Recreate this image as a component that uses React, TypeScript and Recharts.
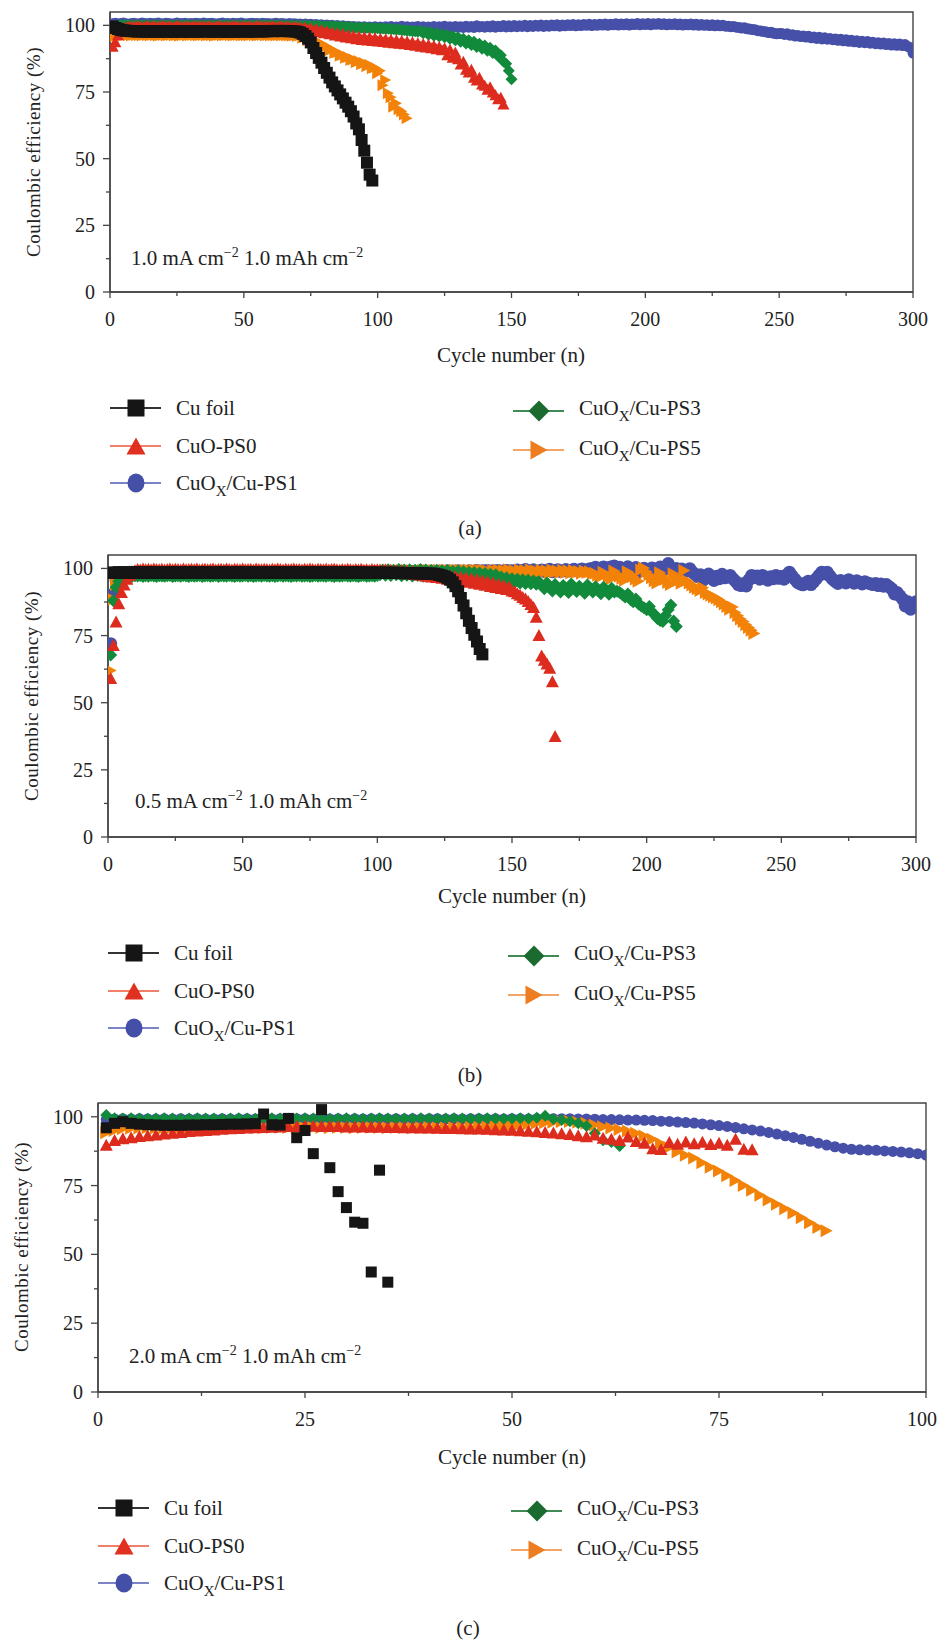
import React from "react";
import { ReferenceArea, Scatter, ScatterChart, XAxis, YAxis } from "recharts";

const FONT = '"Liberation Serif", "Times New Roman", serif';
const AXIS = "#444";

// ---- panel (a): 1.0 mA cm-2, cycles ----
const cuFoilA = [
  99.6, 99.0, 98.6, 98.3, 98.1, 98.0, 97.9, 97.8, 97.8, 97.7,
  97.7, 97.8, 97.6, 97.7, 97.8, 97.6, 97.7, 97.8, 97.7, 97.6,
  97.7, 97.8, 97.7, 97.6, 97.7, 97.8, 97.7, 97.7, 97.6, 97.7,
  97.8, 97.7, 97.6, 97.7, 97.8, 97.8, 97.7, 97.6, 97.7, 97.8,
  97.7, 97.7, 97.6, 97.7, 97.8, 97.7, 97.6, 97.7, 97.8, 97.8,
  97.7, 97.6, 97.7, 97.8, 97.8, 97.7, 97.7, 97.8, 97.8, 97.9,
  97.8, 97.9, 97.9, 97.8, 97.9, 97.9, 97.8, 97.8, 97.7, 97.6,
  97.3, 96.8, 96.0, 95.0, 93.6, 91.5, 89.6, 87.8, 86.0, 84.0,
  82.2, 80.4, 78.6, 77.1, 75.6, 74.1, 72.6, 71.0, 69.5, 67.8,
  65.8, 63.2, 61.0, 57.0, 53.0, 48.5, 44.0, 41.8,
];
const ps0A = [
  92.2, 93.8, 96.5, 98.4, 99.2, 99.5, 99.7, 99.6, 99.8, 99.7,
  99.8, 99.6, 99.7, 99.9, 99.7, 99.8, 99.6, 99.8, 99.7, 99.9,
  99.7, 99.8, 99.6, 99.7, 99.9, 99.8, 99.7, 99.6, 99.8, 99.7,
  99.8, 99.7, 99.9, 99.6, 99.8, 99.7, 99.8, 99.6, 99.7, 99.8,
  99.9, 99.7, 99.6, 99.8, 99.7, 99.8, 99.9, 99.7, 99.6, 99.8,
  99.7, 99.8, 99.6, 99.7, 99.9, 99.8, 99.7, 99.6, 99.8, 99.7,
  99.8, 99.6, 99.7, 99.8, 99.6, 99.7, 99.6, 99.5, 99.6, 99.4,
  99.6, 98.8, 99.4, 98.4, 99.1, 98.0, 98.8, 97.6, 98.4, 97.2,
  98.0, 96.8, 97.6, 96.4, 97.2, 96.0, 96.9, 95.6, 96.6, 95.3,
  96.3, 95.0, 96.0, 94.7, 95.8, 94.5, 95.6, 94.3, 95.4, 94.1,
  95.2, 93.9, 95.0, 93.7, 94.8, 93.5, 94.6, 93.3, 94.4, 93.1,
  94.1, 92.8, 93.8, 92.5, 93.5, 92.2, 93.2, 91.9, 92.9, 91.6,
  92.5, 91.2, 92.1, 90.8, 91.6, 89.0, 91.0, 88.0, 90.0, 87.5,
  85.5, 86.5, 83.5, 82.5, 83.5, 80.5, 79.5, 80.5, 78.0, 77.5,
  76.0, 77.0, 75.0, 74.0, 72.5, 73.0, 70.5,
];
const ps1A = [
  100.6, 100.8, 100.5, 100.7, 100.9, 100.6, 100.4, 100.7, 100.8, 100.5,
  100.6, 100.9, 100.7, 100.5, 100.8, 100.6, 100.7, 100.9, 100.5, 100.6,
  100.8, 100.7, 100.5, 100.6, 100.9, 100.7, 100.6, 100.8, 100.5, 100.7,
  100.6, 100.8, 100.7, 100.5, 100.9, 100.6, 100.7, 100.8, 100.6, 100.5,
  100.7, 100.9, 100.6, 100.7, 100.5, 100.8, 100.6, 100.7, 100.9, 100.6,
  100.5, 100.7, 100.8, 100.6, 100.7, 100.5, 100.8, 100.6, 100.7, 100.5,
  100.6, 100.8, 100.5, 100.7, 100.6, 100.4, 100.7, 100.5, 100.6, 100.4,
  100.5, 100.3, 100.5, 100.2, 100.4, 100.1, 100.3, 100.0, 100.2, 99.9,
  100.1, 99.8, 100.0, 99.7, 99.9, 99.6, 99.8, 99.5, 99.7, 99.4,
  99.6, 99.3, 99.5, 99.2, 99.5, 99.1, 99.4, 99.2, 99.5, 99.1,
  99.4, 99.0, 99.5, 99.1, 99.6, 99.0, 99.4, 99.2, 99.7, 99.1,
  99.5, 99.0, 99.4, 99.3, 99.6, 99.1, 99.5, 99.0, 99.4, 99.2,
  99.6, 99.1, 99.5, 99.3, 99.7, 99.2, 99.5, 99.1, 99.6, 99.3,
  99.5, 99.2, 99.7, 99.3, 99.6, 99.2, 99.8, 99.4, 99.6, 99.3,
  99.7, 99.4, 99.8, 99.3, 99.7, 99.5, 99.9, 99.4, 99.8, 99.5,
  99.9, 99.5, 99.8, 99.6, 100.0, 99.5, 99.9, 99.6, 100.0, 99.7,
  100.1, 99.6, 100.0, 99.7, 100.1, 99.8, 100.2, 99.7, 100.1, 99.8,
  100.2, 99.9, 100.3, 99.8, 100.2, 99.9, 100.3, 100.0, 100.4, 99.9,
  100.3, 100.0, 100.4, 100.1, 100.5, 100.0, 100.4, 100.2, 100.6, 100.1,
  100.5, 100.2, 100.6, 100.1, 100.5, 100.3, 100.7, 100.2, 100.6, 100.3,
  100.7, 100.2, 100.6, 100.4, 100.7, 100.3, 100.6, 100.2, 100.5, 100.3,
  100.6, 100.2, 100.5, 100.1, 100.4, 100.2, 100.5, 100.1, 100.4, 100.0,
  100.3, 100.0, 100.2, 99.9, 100.2, 99.8, 100.1, 99.8, 100.0, 99.7,
  99.7, 99.5, 99.6, 99.3, 99.2, 99.0, 99.1, 98.7, 98.6, 98.4,
  98.3, 98.0, 97.9, 97.7, 97.6, 97.3, 97.4, 97.0, 96.8, 96.9,
  96.9, 96.6, 96.8, 96.3, 96.5, 96.0, 96.2, 95.8, 96.0, 95.6,
  95.9, 95.3, 95.6, 95.1, 95.5, 94.9, 95.3, 94.8, 95.1, 94.6,
  94.9, 94.4, 94.8, 94.2, 94.6, 94.0, 94.4, 93.8, 94.2, 93.6,
  94.0, 93.5, 93.9, 93.3, 93.7, 93.1, 93.5, 93.0, 93.4, 92.8,
  93.2, 92.6, 93.1, 92.5, 93.0, 92.4, 92.8, 92.1, 91.6, 89.6,
];
const ps3A = [
  98.6, 99.5, 99.8, 99.9, 100.0, 99.9, 100.0, 99.8, 99.9, 100.0,
  99.9, 99.8, 100.0, 99.9, 99.8, 100.0, 99.9, 99.9, 99.8, 100.0,
  99.9, 100.0, 99.8, 99.9, 100.0, 99.9, 99.8, 99.9, 100.0, 99.9,
  99.8, 100.0, 99.9, 99.9, 99.8, 100.0, 99.9, 99.8, 99.9, 100.0,
  99.9, 99.8, 100.0, 99.9, 99.9, 99.8, 100.0, 99.9, 99.8, 99.9,
  100.0, 99.9, 99.8, 99.9, 100.0, 99.8, 99.9, 99.9, 99.8, 100.0,
  99.9, 99.8, 99.9, 99.9, 99.8, 99.9, 99.8, 99.9, 99.8, 99.8,
  99.9, 99.7, 99.8, 99.8, 99.7, 99.8, 99.7, 99.8, 99.6, 99.7,
  99.7, 99.6, 99.7, 99.5, 99.6,
  99.5, 99.3, 99.4, 99.2, 99.3, 99.1, 99.2, 99.0, 99.1, 99.0,
  99.1, 98.9, 99.0, 98.8, 98.9, 98.7, 98.8, 98.6, 98.7, 98.5,
  98.5, 98.3, 98.4, 98.2, 98.2, 98.0, 98.0, 97.8, 97.8, 97.6,
  98.0, 97.0, 97.7, 96.5, 97.4, 96.1, 97.0, 95.8, 96.7, 95.5,
  96.4, 95.0, 96.0, 94.4, 95.5, 93.8, 95.0, 93.2, 94.4, 92.6,
  93.8, 91.9, 93.1, 91.2, 92.4, 90.5, 91.6, 89.6, 90.6, 88.4,
  88.8, 86.4, 85.6, 83.0, 79.8,
];
const ps5A = [
  95.5, 96.0, 96.2, 96.3, 96.2, 96.4, 96.3, 96.2, 96.4, 96.3,
  96.3, 96.2, 96.4, 96.3, 96.2, 96.4, 96.3, 96.1, 96.3, 96.4,
  96.2, 96.3, 96.4, 96.2, 96.3, 96.1, 96.3, 96.4, 96.2, 96.3,
  96.4, 96.3, 96.2, 96.3, 96.4, 96.2, 96.3, 96.3, 96.1, 96.3,
  96.4, 96.2, 96.3, 96.4, 96.3, 96.2, 96.3, 96.4, 96.2, 96.3,
  96.3, 96.2, 96.4, 96.3, 96.2, 96.3, 96.4, 96.2, 96.3, 96.2,
  96.3, 96.2, 96.3, 96.2, 96.3, 96.2, 96.2, 96.1, 96.2, 96.0,
  96.2, 95.3, 95.6, 94.4, 94.9, 93.6, 94.2, 92.7, 93.3, 91.8,
  92.2, 90.6, 91.0, 89.6, 89.9, 88.6, 89.0, 87.8, 88.1, 87.0,
  87.3, 86.2, 86.6, 85.4, 85.9, 84.7, 85.2, 83.9, 84.2, 82.0,
  83.0, 77.5, 79.5, 74.5, 73.0, 69.5, 70.8, 68.5, 67.8, 66.6, 65.2,
];

// ---- panel (b): 0.5 mA cm-2 ----
const cuFoilB = [
  98.3, 98.5, 98.4, 98.6, 98.4, 98.5, 98.3, 98.5, 98.4, 98.6,
  98.4, 98.6, 98.3, 98.5, 98.4, 98.6, 98.3, 98.5, 98.4, 98.5,
  98.5, 98.3, 98.6, 98.4, 98.5, 98.3, 98.6, 98.4, 98.5, 98.4,
  98.6, 98.4, 98.5, 98.3, 98.5, 98.6, 98.4, 98.5, 98.3, 98.5,
  98.4, 98.5, 98.6, 98.4, 98.3, 98.5, 98.4, 98.6, 98.5, 98.4,
  98.5, 98.3, 98.5, 98.6, 98.4, 98.5, 98.4, 98.3, 98.5, 98.6,
  98.4, 98.5, 98.4, 98.6, 98.3, 98.5, 98.4, 98.5, 98.6, 98.4,
  98.5, 98.4, 98.3, 98.5, 98.6, 98.4, 98.5, 98.4, 98.6, 98.5,
  98.4, 98.5, 98.3, 98.4, 98.6, 98.5, 98.4, 98.5, 98.3, 98.5,
  98.4, 98.6, 98.4, 98.5, 98.3, 98.4, 98.5, 98.4, 98.3, 98.5,
  98.4, 98.3, 98.5, 98.4, 98.3, 98.4, 98.3, 98.4, 98.2, 98.3,
  98.2, 98.3, 98.2, 98.2, 98.1, 98.2, 98.1, 98.1, 98.0, 98.1,
  98.0, 97.8, 97.6, 97.3, 97.0, 96.5, 95.8, 94.8, 93.4, 91.5,
  89.0, 86.2, 83.3, 80.5, 77.8, 75.3, 72.8, 70.0, 68.0,
];
const ps0B = [
  59.2, 71.5, 80.2, 87.0, 91.2, 94.0, 96.2, 97.6, 98.6, 99.3,
  99.8, 99.6, 100.0, 99.7, 99.9, 99.6, 100.0, 99.8, 99.7, 99.9,
  99.6, 99.8, 100.0, 99.7, 99.9, 99.8, 99.6, 100.0, 99.7, 99.8,
  99.9, 99.7, 100.0, 99.6, 99.8, 99.9, 99.7, 99.8, 100.0, 99.6,
  99.8, 99.9, 99.7, 100.0, 99.8, 99.6, 99.9, 99.8, 99.7, 100.0,
  99.7, 99.8, 99.9, 99.6, 100.0, 99.8, 99.7, 99.9, 99.8, 99.6,
  99.9, 99.7, 100.0, 99.8, 99.6, 99.9, 99.7, 99.8, 100.0, 99.7,
  99.8, 99.6, 99.9, 99.7, 100.0, 99.8, 99.6, 99.9, 99.8, 99.7,
  99.9, 99.6, 99.8, 99.9, 99.7, 99.5, 99.8, 99.6, 99.9, 99.7,
  99.5, 99.8, 99.6, 99.9, 99.5, 99.7, 99.4, 99.8, 99.5, 99.7,
  99.6, 99.2, 99.7, 99.0, 99.5, 98.8, 99.4, 98.6, 99.3, 98.4,
  99.2, 98.2, 99.0, 97.9, 98.9, 97.6, 98.7, 97.3, 98.5, 97.0,
  98.3, 96.8, 98.0, 96.5, 97.8, 96.2, 97.5, 95.9, 97.2, 95.6,
  96.9, 95.3, 96.6, 95.0, 96.3, 94.7, 96.0, 94.3, 95.6, 93.9,
  95.2, 93.5, 94.8, 93.1, 94.3, 92.7, 93.8, 92.3, 93.3, 91.8,
  91.5, 90.8, 90.2, 89.4, 88.8, 87.9, 86.8, 85.6, 82.0, 75.2,
  67.6, 66.0, 64.6, 63.0, 58.0, 37.6,
];
const ps1B = [
  72.0, 90.5, 95.5, 97.5, 98.2, 98.4, 98.5, 98.6, 98.5, 98.6,
  98.6, 98.4, 98.7, 98.5, 98.6, 98.3, 98.7, 98.5, 98.4, 98.6,
  98.5, 98.7, 98.4, 98.6, 98.5, 98.3, 98.6, 98.7, 98.5, 98.4,
  98.6, 98.5, 98.7, 98.4, 98.6, 98.5, 98.3, 98.6, 98.5, 98.7,
  98.4, 98.6, 98.5, 98.6, 98.3, 98.7, 98.5, 98.4, 98.6, 98.5,
  98.7, 98.5, 98.4, 98.6, 98.5, 98.7, 98.3, 98.6, 98.5, 98.4,
  98.6, 98.7, 98.5, 98.4, 98.6, 98.5, 98.3, 98.7, 98.5, 98.6,
  98.4, 98.6, 98.5, 98.7, 98.4, 98.6, 98.5, 98.6, 98.3, 98.5,
  98.6, 98.4, 98.7, 98.5, 98.6, 98.4, 98.5, 98.7, 98.6, 98.5,
  98.7, 98.5, 98.6, 98.4, 98.7, 98.6, 98.5, 98.8, 98.6, 98.7,
  98.5, 98.8, 98.6, 98.7, 98.9, 98.6, 98.8, 98.7, 98.9, 98.6,
  98.8, 98.7, 98.9, 98.7, 98.8, 99.0, 98.7, 98.9, 98.8, 99.0,
  98.8, 98.9, 99.0, 98.7, 98.9, 99.1, 98.8, 99.0, 98.9, 99.1,
  98.8, 99.0, 98.9, 99.1, 98.8, 99.0, 99.2, 98.9, 99.1, 99.0,
  99.2, 98.9, 99.1, 99.0, 99.2, 98.9, 99.1, 99.2, 99.0, 99.1,
  99.0, 99.4, 98.7, 99.2, 99.6, 98.8, 99.1, 99.5, 98.6, 99.0,
  99.4, 98.9, 99.3, 99.7, 98.8, 99.2, 99.5, 98.9, 99.1, 99.6,
  99.0, 99.3, 99.7, 99.1, 99.4, 99.8, 99.2, 99.5, 99.9,
  100.0, 100.4, 99.8, 100.2, 100.5, 99.9, 100.3, 100.6, 100.9,
  99.8, 100.4, 99.2, 99.9, 100.6, 99.0, 99.7, 100.3, 98.8, 99.5,
  100.1, 98.9, 99.6, 100.2, 99.1, 99.8, 100.5, 99.4, 100.0,
  101.8,
  100.2, 99.6, 100.0, 99.4, 99.8, 99.2, 99.0,
  99.9, 98.6, 97.8, 96.9, 97.6, 95.6, 96.8, 97.9, 96.4, 95.5,
  97.1, 96.2, 97.8, 96.5, 97.0, 97.4, 96.2,
  95.2, 94.0, 93.6, 94.4, 93.5, 95.8, 97.4, 96.6, 97.2, 96.0,
  97.4, 96.8, 95.6, 96.9, 96.2,
  97.4, 96.3, 97.0, 96.0, 97.6, 98.6, 97.2, 96.0, 94.8, 94.2,
  93.9, 94.6, 95.2, 94.0, 95.0, 96.2, 97.4, 98.6, 98.0, 98.6, 97.2,
  96.0, 95.2, 94.4, 95.5, 95.0, 94.6, 95.8, 95.1, 94.5, 95.4,
  94.9, 94.2, 95.0, 94.6, 94.3,
  94.0, 94.4, 93.6, 94.2, 93.4, 94.0, 93.2, 92.4, 90.5,
  91.0, 89.8, 88.6, 86.0, 87.6, 84.8, 86.4, 87.6,
];
const ps3B = [
  67.8, 88.0, 93.0, 95.2, 96.2, 96.8, 97.0, 97.2, 97.1, 97.3,
  97.2, 97.4, 97.0, 97.3, 97.1, 97.4, 97.2, 97.0, 97.3, 97.2,
  97.1, 97.3, 97.4, 97.0, 97.2, 97.3, 97.1, 97.4, 97.2, 97.0,
  97.3, 97.1, 97.2, 97.4, 97.0, 97.2, 97.3, 97.1, 97.2, 97.4,
  97.0, 97.3, 97.2, 97.1, 97.4, 97.2, 97.0, 97.3, 97.1, 97.2,
  97.4, 97.1, 97.3, 97.0, 97.2, 97.3, 97.1, 97.4, 97.2, 97.1,
  97.3, 97.0, 97.2, 97.4, 97.1, 97.3, 97.2, 97.0, 97.3, 97.2,
  97.4, 97.1, 97.2, 97.3, 97.0, 97.2, 97.4, 97.1, 97.3, 97.2,
  97.1, 97.4, 97.2, 97.0, 97.3, 97.1, 97.2, 97.4, 97.2, 97.1,
  97.3, 97.2, 97.0, 97.3, 97.4, 97.1, 97.2, 97.3, 97.1, 97.4,
  97.6, 99.4, 97.5, 99.5, 97.4, 99.3, 97.6, 99.6, 97.3, 99.4,
  97.5, 99.5, 97.2, 99.3, 97.4, 99.6, 97.1, 99.4, 97.3, 99.2,
  97.0, 99.3, 97.2, 99.1, 96.9, 99.2, 97.0, 98.9, 96.8, 99.0,
  96.7, 98.8, 96.6, 98.6, 96.5, 98.5, 96.4, 98.3, 96.2, 98.1,
  96.0, 97.8, 95.8, 97.6, 95.6,
  96.8, 95.4, 96.5, 95.0, 96.2, 94.8, 96.0, 94.6, 95.8, 94.4,
  95.6, 94.3, 95.3, 94.1, 95.0,
  93.8, 92.4, 94.6, 93.0, 91.6, 94.0, 92.6, 91.2, 93.6, 92.2,
  91.0, 94.2, 92.8, 91.4, 93.4, 92.0, 90.8, 93.8, 92.4, 91.2,
  93.2, 91.8, 90.6, 93.0, 91.6, 90.4, 92.6, 91.2,
  91.5, 91.0, 90.2, 89.4, 90.5, 88.4, 87.6, 88.6, 86.8, 86.0,
  85.4, 84.6, 85.8, 83.6, 82.8, 81.4, 80.6, 80.2, 82.5, 84.6,
  86.4, 80.4, 78.4,
];
const ps5B = [
  62.0, 88.5, 94.0, 96.5, 97.8, 98.4, 98.6, 98.5, 98.7, 98.6,
  98.8, 98.6, 99.0, 98.7, 98.9, 98.6, 98.8, 99.0, 98.7, 98.9,
  98.8, 98.7, 98.9, 98.6, 99.0, 98.8, 98.7, 98.9, 98.8, 98.6,
  98.9, 98.7, 98.8, 99.0, 98.6, 98.8, 98.9, 98.7, 98.8, 98.9,
  98.7, 98.9, 98.8, 98.6, 98.9, 99.0, 98.7, 98.8, 98.9, 98.7,
  98.8, 98.6, 98.9, 98.8, 99.0, 98.7, 98.8, 98.9, 98.6, 98.8,
  98.9, 98.7, 98.8, 99.0, 98.8, 98.7, 98.9, 98.8, 98.6, 98.9,
  98.8, 98.9, 98.7, 98.8, 99.0, 98.8, 98.7, 98.9, 98.8, 98.9,
  98.7, 98.9, 98.8, 99.0, 98.7, 98.9, 98.8, 99.0, 98.9, 98.8,
  99.0, 98.8, 98.9, 99.1, 98.8, 99.0, 98.9, 99.1, 98.8, 99.0,
  99.1, 98.9, 99.0, 99.2, 98.9, 99.1, 99.0, 99.2, 98.9, 99.1,
  99.2, 99.0, 99.1, 99.3, 98.9, 99.1, 99.2, 99.0, 99.3, 99.1,
  99.2, 99.0, 99.3, 99.1, 99.2, 99.4, 99.0, 99.2, 99.3, 99.1,
  99.3, 99.1, 99.2, 99.4, 99.0, 99.3, 99.2, 99.1, 99.3, 99.2,
  99.0, 98.6, 99.3, 98.8, 99.4, 98.5, 99.2, 98.9, 99.5, 98.7,
  99.1, 98.6, 99.4, 98.8, 99.2, 98.5, 99.5, 98.9, 99.0, 98.6,
  99.3, 98.7, 99.1, 98.4, 99.4, 98.8, 99.0, 98.5, 99.3, 98.6,
  99.1, 98.3, 99.2, 98.6, 98.9, 98.2, 99.0, 98.5, 98.8, 98.1,
  98.2, 97.5, 96.8, 98.6, 97.9, 97.0, 96.2, 99.0, 98.0, 97.1,
  96.3, 95.6, 98.8, 97.9, 97.0, 96.1, 95.2, 99.4, 100.2, 98.8,
  97.6, 96.5, 95.4, 94.6, 98.4, 97.2, 96.0, 94.8, 94.0, 98.0,
  96.8, 95.6, 94.5, 99.2, 95.5, 94.6, 93.8, 93.0, 92.4, 91.8,
  92.8, 91.0, 90.5, 90.0, 89.5, 89.0, 88.3, 87.6, 86.8, 85.8,
  84.8, 85.6, 83.6, 82.4, 81.2, 80.2, 79.0, 78.0, 77.0, 75.8,
];

// ---- panel (c): 2.0 mA cm-2 ----
const cuFoilC = [
  96.0, 97.6, 98.2, 97.6, 97.3, 97.1, 97.0, 96.9, 96.9, 96.9,
  97.0, 97.0, 97.1, 97.1, 97.2, 97.3, 97.3, 97.4, 97.5, 101.0,
  97.1, 97.0, 99.4, 92.4, 95.0, 86.6, 102.6, 81.5, 72.8, 67.0,
  61.7, 61.3, 43.6, 80.6, 39.9,
];
const ps0C = [
  89.8, 91.6, 92.2, 92.6, 93.0, 93.3, 93.6, 93.9, 94.2, 94.5,
  94.8, 95.0, 95.2, 95.4, 95.6, 95.8, 95.9, 96.1, 96.2, 96.3,
  96.4, 96.5, 96.6, 96.6, 96.7, 96.7, 96.6, 96.6, 96.6, 96.5,
  96.5, 96.5, 96.4, 96.4, 96.3, 96.3, 96.2, 96.2, 96.1, 96.1,
  96.0, 95.9, 95.9, 95.8, 95.7, 95.7, 95.6, 95.5, 95.4, 95.3,
  95.1, 94.9, 94.7, 94.5, 94.3, 94.0, 93.7, 93.3, 92.9, 93.6,
  92.4, 92.0, 91.6, 92.8, 91.2, 90.6, 88.6, 88.3, 90.8, 90.2,
  91.0, 90.4, 90.9, 90.1, 90.6, 89.8, 92.0, 88.4, 88.2,
];
const ps1C = [
  99.0, 99.2, 99.3, 99.2, 99.3, 99.2, 99.2, 99.3, 99.2, 99.3,
  99.2, 99.3, 99.2, 99.2, 99.3, 99.2, 99.3, 99.3, 99.2, 99.3,
  99.2, 99.3, 99.2, 99.3, 99.3, 99.2, 99.3, 99.2, 99.3, 99.2,
  99.3, 99.2, 99.3, 99.3, 99.2, 99.3, 99.2, 99.3, 99.2, 99.3,
  99.3, 99.2, 99.3, 99.2, 99.3, 99.3, 99.2, 99.3, 99.2, 99.3,
  99.3, 99.2, 99.3, 99.3, 99.3,
  99.3, 99.3, 99.2, 99.2, 99.1, 99.0, 99.0, 98.9, 98.8, 98.8,
  98.7, 98.6, 98.4, 98.3, 98.1, 97.9, 97.7, 97.4, 97.1, 96.8,
  96.5, 96.1, 95.6, 95.2, 94.8, 94.3, 93.7, 93.1, 92.5, 91.8,
  91.1, 90.4, 89.7, 89.1, 88.6, 88.2, 88.0, 87.9, 87.8, 87.6,
  87.4, 87.2, 86.9, 86.6, 86.1,
];
const ps3C = [
  100.6, 99.5, 99.4, 99.5, 99.4, 99.3, 99.4, 99.5, 99.4, 99.3,
  99.4, 99.5, 99.4, 99.4, 99.3, 99.4, 99.5, 99.4, 99.3, 99.4,
  99.5, 99.4, 99.3, 99.4, 99.5, 99.4, 99.4, 99.3, 99.4, 99.5,
  99.4, 99.3, 99.4, 99.5, 99.4, 99.3, 99.4, 99.4, 99.5, 99.4,
  99.3, 99.4, 99.5, 99.4, 99.3, 99.4, 99.5, 99.4, 99.3, 99.4,
  99.5, 99.4, 99.6, 100.4, 99.2, 98.8, 98.4, 97.6, 96.6, 94.0,
  91.5, 90.8, 89.4,
];
const ps5C = [
  94.2, 95.0, 95.6, 95.8, 95.9, 96.0, 95.9, 96.0, 96.1, 96.0,
  96.1, 96.0, 96.1, 96.2, 96.1, 96.0, 96.1, 96.2, 96.1, 96.0,
  96.1, 96.2, 96.1, 96.0, 96.1, 96.2, 96.1, 96.0, 96.1, 96.1,
  96.0, 96.1, 96.2, 96.1, 96.0, 96.1, 96.1, 96.0, 96.1, 96.2,
  96.1, 96.0, 96.1, 96.2, 96.3, 96.4, 96.5, 96.6, 96.8, 97.0,
  97.2, 97.4, 97.6, 97.8, 98.0, 98.2, 98.3, 98.0, 97.6, 97.0,
  96.4, 95.9, 95.4, 94.8, 94.0, 93.0, 91.8, 90.3, 88.8, 87.2,
  86.0, 85.0, 83.3, 81.7, 80.3, 78.6, 76.8, 75.0, 73.3, 71.5,
  69.8, 68.2, 66.6, 65.0, 63.3, 61.5, 59.8, 58.6,
];

const yTicks = [0, 12.5, 25, 37.5, 50, 62.5, 75, 87.5, 100];
const xTicks300 = [0, 25, 50, 75, 100, 125, 150, 175, 200, 225, 250, 275, 300];
const xTicks100 = [0, 12.5, 25, 37.5, 50, 62.5, 75, 87.5, 100];

type Kind = "square" | "triangle" | "circle" | "diamond" | "right";

const SERIES = [
  { key: "cu", label: "Cu foil", kind: "square" as Kind, color: "#151515", line: "#333333" },
  { key: "ps0", label: "CuO-PS0", kind: "triangle" as Kind, color: "#dd2c1e", line: "#f0806a" },
  { key: "ps1", label: "CuOX/Cu-PS1", kind: "circle" as Kind, color: "#4650a8", line: "#7c84c8" },
  { key: "ps3", label: "CuOX/Cu-PS3", kind: "diamond" as Kind, color: "#128a3b", line: "#3f8a55" },
  { key: "ps5", label: "CuOX/Cu-PS5", kind: "right" as Kind, color: "#f38209", line: "#f2a565" },
];
const LEGEND_COLORS: Record<string, string> = {
  cu: "#151515", ps0: "#e0301f", ps1: "#4450a8", ps3: "#1b6b30", ps5: "#ee7d22",
};

const drawMarker = (kind: Kind, cx: number, cy: number, w: number, h: number, fill: string) => {
  const a = w / 2;
  const b = h / 2;
  switch (kind) {
    case "square":
      return <rect x={cx - a} y={cy - b} width={w} height={h} fill={fill} />;
    case "circle":
      return <ellipse cx={cx} cy={cy} rx={a} ry={b} fill={fill} />;
    case "triangle":
      return <polygon points={`${cx},${cy - b} ${cx + a},${cy + b} ${cx - a},${cy + b}`} fill={fill} />;
    case "diamond":
      return <polygon points={`${cx},${cy - b} ${cx + a},${cy} ${cx},${cy + b} ${cx - a},${cy}`} fill={fill} />;
    default:
      return <polygon points={`${cx + a},${cy} ${cx - a},${cy - b} ${cx - a},${cy + b}`} fill={fill} />;
  }
};

const toPoints = (values: number[]) => values.map((y, i) => ({ x: i + 1, y }));

type PanelProps = {
  top: number;
  bottom: number;
  left: number;
  right: number;
  xMax: number;
  xTicks: number[];
  xMajor: number;
  sizes: Record<Kind, [number, number]>;
  data: Record<string, number[]>;
};

const Panel = ({ top, bottom, left, right, xMax, xTicks, xMajor, sizes, data }: PanelProps) => {
  const plotH = bottom - top;
  const base = 10 + plotH;
  // draw order: PS1 under everything, Cu foil on top
  const order = ["ps1", "ps5", "ps3", "ps0", "cu"];
  return (
    <div style={{ position: "absolute", left: 0, top: top - 10 }}>
      <ScatterChart width={939} height={base + 40} margin={{ top: 10, right: 939 - right, bottom: 0, left: 0 }}>
        <XAxis
          type="number"
          dataKey="x"
          domain={[0, xMax]}
          ticks={xTicks}
          interval={0}
          allowDataOverflow
          height={40}
          axisLine={{ stroke: AXIS, strokeWidth: 1.4 }}
          tickLine={false}
          tick={(p: any) => {
            const v = p.payload.value;
            const major = v % xMajor === 0;
            const tx = Math.min(p.x, 939 - 17);
            return (
              <g>
                <line x1={p.x} x2={p.x} y1={base} y2={base + (major ? 6 : 4)} stroke={AXIS} strokeWidth={1.3} />
                {major && (
                  <text x={tx} y={base + 34} textAnchor="middle" fontFamily={FONT} fontSize={20} fill="#222">
                    {v}
                  </text>
                )}
              </g>
            );
          }}
        />
        <YAxis
          type="number"
          dataKey="y"
          domain={[0, 105]}
          ticks={yTicks}
          interval={0}
          allowDataOverflow
          width={left}
          axisLine={{ stroke: AXIS, strokeWidth: 1.4 }}
          tickLine={false}
          tick={(p: any) => {
            const v = p.payload.value;
            const major = v % 25 === 0;
            return (
              <g>
                <line x1={left - (major ? 7 : 4)} x2={left} y1={p.y} y2={p.y} stroke={AXIS} strokeWidth={1.3} />
                {major && (
                  <text x={left - 15} y={p.y + 7} textAnchor="end" fontFamily={FONT} fontSize={20} fill="#222">
                    {v}
                  </text>
                )}
              </g>
            );
          }}
        />
        {order.map((key) => {
          const s = SERIES.find((d) => d.key === key)!;
          const [w, h] = sizes[s.kind];
          return (
            <Scatter
              key={key}
              name={s.label}
              data={toPoints(data[key])}
              fill={s.color}
              isAnimationActive={false}
              shape={(p: any) => drawMarker(s.kind, p.cx, p.cy, w, h, s.color)}
            />
          );
        })}
        <ReferenceArea x1={0} x2={xMax} y1={0} y2={105} fill="none" fillOpacity={0} stroke={AXIS} strokeWidth={1.4} />
      </ScatterChart>
    </div>
  );
};

const LegendLabel = ({ x, y, label }: { x: number; y: number; label: string }) => {
  const parts = label.split("X");
  return (
    <text x={x} y={y} fontFamily={FONT} fontSize={21} fill="#222">
      {parts.length === 1 ? (
        label
      ) : (
        <>
          {parts[0]}
          <tspan dy={6} fontSize={15}>X</tspan>
          <tspan dy={-6}>{parts[1]}</tspan>
        </>
      )}
    </text>
  );
};

const LegendBlock = ({ left, rightX, rows, rightRows }: { left: number; rightX: number; rows: number[]; rightRows: number[] }) => {
  const places = [
    { x: left, y: rows[0], ty: rows[0] },
    { x: left, y: rows[1], ty: rows[1] },
    { x: left, y: rows[2], ty: rows[2] },
    { x: rightX, y: rightRows[0], ty: rows[0] },
    { x: rightX, y: rightRows[1], ty: rows[1] + 2 },
  ];
  const legendSize: Record<Kind, [number, number]> = {
    square: [17, 17],
    triangle: [19, 17],
    circle: [17, 19],
    diamond: [21, 21],
    right: [17, 19],
  };
  return (
    <g>
      {SERIES.map((s, i) => {
        const p = places[i];
        const [w, h] = legendSize[s.kind];
        return (
          <g key={s.key}>
            <line x1={p.x} x2={p.x + 51} y1={p.y} y2={p.y} stroke={s.line} strokeWidth={2} />
            {drawMarker(s.kind, p.x + 26, p.y, w, h, LEGEND_COLORS[s.key])}
            <LegendLabel x={p.x + 66} y={p.ty + 7} label={s.label} />
          </g>
        );
      })}
    </g>
  );
};

const Annotation = ({ x, y, rate }: { x: number; y: number; rate: string }) => (
  <text x={x} y={y} fontFamily={FONT} fontSize={21} fill="#222">
    {rate} mA cm
    <tspan dy={-8} fontSize={14}>−2</tspan>
    <tspan dy={8}> 1.0 mAh cm</tspan>
    <tspan dy={-8} fontSize={14}>−2</tspan>
  </text>
);

const YLabel = ({ x, y }: { x: number; y: number }) => (
  <text
    transform={`translate(${x},${y}) rotate(-90)`}
    textAnchor="middle"
    dominantBaseline="central"
    fontFamily={FONT}
    fontSize={19}
    letterSpacing={0.5}
    fill="#222"
  >
    Coulombic efficiency (%)
  </text>
);

const CenterText = ({ x, y, children }: { x: number; y: number; children: React.ReactNode }) => (
  <text x={x} y={y} textAnchor="middle" fontFamily={FONT} fontSize={21} fill="#222">
    {children}
  </text>
);

const sizesA: Record<Kind, [number, number]> = {
  square: [12, 12], triangle: [12, 11], circle: [11, 11], diamond: [12, 12], right: [11, 12],
};
const sizesB: Record<Kind, [number, number]> = {
  square: [12, 12], triangle: [13, 12], circle: [13, 13], diamond: [13, 13], right: [12, 13],
};
const sizesC: Record<Kind, [number, number]> = {
  square: [11, 11], triangle: [13, 12], circle: [11, 11], diamond: [12, 12], right: [12, 13],
};

export default function App() {
  return (
    <div style={{ position: "absolute", left: 0, top: 0, width: 939, height: 1640, background: "#fff", overflow: "hidden" }}>
      <Panel
        top={12} bottom={292} left={110} right={913} xMax={300} xTicks={xTicks300} xMajor={50} sizes={sizesA}
        data={{ cu: cuFoilA, ps0: ps0A, ps1: ps1A, ps3: ps3A, ps5: ps5A }}
      />
      <Panel
        top={555} bottom={837} left={108} right={916} xMax={300} xTicks={xTicks300} xMajor={50} sizes={sizesB}
        data={{ cu: cuFoilB, ps0: ps0B, ps1: ps1B, ps3: ps3B, ps5: ps5B }}
      />
      <Panel
        top={1103} bottom={1392} left={98} right={926} xMax={100} xTicks={xTicks100} xMajor={25} sizes={sizesC}
        data={{ cu: cuFoilC, ps0: ps0C, ps1: ps1C, ps3: ps3C, ps5: ps5C }}
      />
      <svg width={939} height={1640} style={{ position: "absolute", left: 0, top: 0, pointerEvents: "none" }}>
        <YLabel x={33} y={152} />
        <YLabel x={31} y={696} />
        <YLabel x={21} y={1247} />
        <Annotation x={131} y={265} rate="1.0" />
        <Annotation x={135} y={808} rate="0.5" />
        <Annotation x={129} y={1363} rate="2.0" />
        <CenterText x={511} y={362}>Cycle number (n)</CenterText>
        <CenterText x={512} y={903}>Cycle number (n)</CenterText>
        <CenterText x={512} y={1464}>Cycle number (n)</CenterText>
        <LegendBlock left={110} rightX={513} rows={[408, 446, 483]} rightRows={[411, 450]} />
        <LegendBlock left={108} rightX={508} rows={[953, 991, 1028]} rightRows={[956, 995]} />
        <LegendBlock left={98} rightX={511} rows={[1508, 1546, 1583]} rightRows={[1511, 1550]} />
        <CenterText x={470} y={535}>(a)</CenterText>
        <CenterText x={470} y={1082}>(b)</CenterText>
        <CenterText x={468} y={1635}>(c)</CenterText>
      </svg>
    </div>
  );
}
